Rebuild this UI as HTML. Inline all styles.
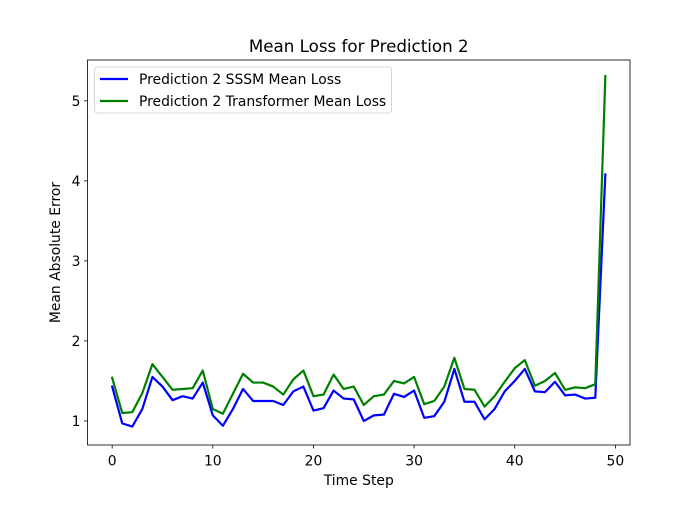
<!DOCTYPE html>
<html><head><meta charset="utf-8"><style>
body{margin:0;background:#fff}
svg text{font-family:"DejaVu Sans","Liberation Sans",sans-serif;fill:#000}
</style></head><body>
<svg id="chart" width="700" height="500" xmlns="http://www.w3.org/2000/svg"></svg>
<script>
const steps = Array.from({length:50},(_,i)=>i);
const sssm = [1.43,0.97,0.93,1.15,1.55,1.43,1.26,1.31,1.28,1.48,1.07,0.94,1.15,1.40,1.25,1.25,1.25,1.20,1.37,1.43,1.13,1.16,1.38,1.28,1.27,1.00,1.07,1.08,1.34,1.30,1.38,1.04,1.06,1.24,1.65,1.24,1.24,1.02,1.15,1.37,1.50,1.65,1.37,1.36,1.49,1.32,1.33,1.28,1.29,4.08];
const transformer = [1.54,1.10,1.11,1.35,1.71,1.55,1.39,1.40,1.41,1.63,1.15,1.09,1.34,1.59,1.48,1.48,1.43,1.33,1.52,1.63,1.31,1.33,1.58,1.40,1.43,1.20,1.31,1.33,1.50,1.47,1.55,1.21,1.25,1.43,1.79,1.40,1.39,1.18,1.31,1.49,1.66,1.76,1.44,1.50,1.60,1.39,1.42,1.41,1.46,5.31];
const xTicks = [0,10,20,30,40,50];
const yTicks = [1,2,3,4,5];

const L=87.5,R=630,T=60,B=445;
const xMin=-2.45,xMax=51.45,yMin=0.70,yMax=5.51;
const xs=v=>L+(v-xMin)/(xMax-xMin)*(R-L);
const ys=v=>B-(v-yMin)/(yMax-yMin)*(B-T);
const svg=document.getElementById('chart');
const NS='http://www.w3.org/2000/svg';
function mk(tag,attrs,parent){const e=document.createElementNS(NS,tag);for(const k in attrs)e.setAttribute(k,attrs[k]);(parent||svg).appendChild(e);return e;}

const t=mk('text',{x:358.75,y:52,'text-anchor':'middle','font-size':16.7});
t.textContent='Mean Loss for Prediction 2';



function series(vals,color,name){
  const p=mk('polyline',{points:vals.map((v,i)=>xs(steps[i])+','+ys(v)).join(' '),fill:'none',stroke:color,'stroke-width':2.2,'stroke-linejoin':'round','stroke-linecap':'square'});
  
  
}
series(sssm,'#0000ff','sssm-line');
series(transformer,'#008000','transformer-line');

const frame=mk('rect',{x:L,y:T,width:R-L,height:B-T,fill:'none',stroke:'#000','stroke-width':0.8});



xTicks.forEach(v=>{
  const g=mk('g',{});
  
  
  mk('line',{x1:xs(v),x2:xs(v),y1:B,y2:B+3.5,stroke:'#000','stroke-width':0.8},g);
  const tx=mk('text',{x:xs(v),y:B+20.5,'text-anchor':'middle','font-size':13.9},g);tx.textContent=v;
});
yTicks.forEach(v=>{
  const g=mk('g',{});
  
  
  mk('line',{x1:L-3.5,x2:L,y1:ys(v),y2:ys(v),stroke:'#000','stroke-width':0.8},g);
  const tx=mk('text',{x:L-7,y:ys(v)+5,'text-anchor':'end','font-size':13.9},g);tx.textContent=v;
});
const xl=mk('text',{x:358.75,y:485,'text-anchor':'middle','font-size':13.9});xl.textContent='Time Step';


const yl=mk('text',{x:0,y:0,'text-anchor':'middle','font-size':13.9,transform:'translate(60,252.5) rotate(-90)'});yl.textContent='Mean Absolute Error';



const lg=mk('g',{});


mk('rect',{x:94.5,y:67,width:297,height:46,rx:3,fill:'#fff','fill-opacity':0.8,stroke:'#ccc','stroke-width':0.8},lg);
[['Prediction 2 SSSM Mean Loss','#0000ff',79],['Prediction 2 Transformer Mean Loss','#008000',101]].forEach(([lab,c,y],i)=>{
  const e=mk('g',{},lg);
  
  
  mk('line',{x1:100,x2:128,y1:y,y2:y,stroke:c,'stroke-width':2.2},e);
  const tx=mk('text',{x:139,y:y+5,'font-size':13.9},e);tx.textContent=lab;
});
</script>
</body></html>
